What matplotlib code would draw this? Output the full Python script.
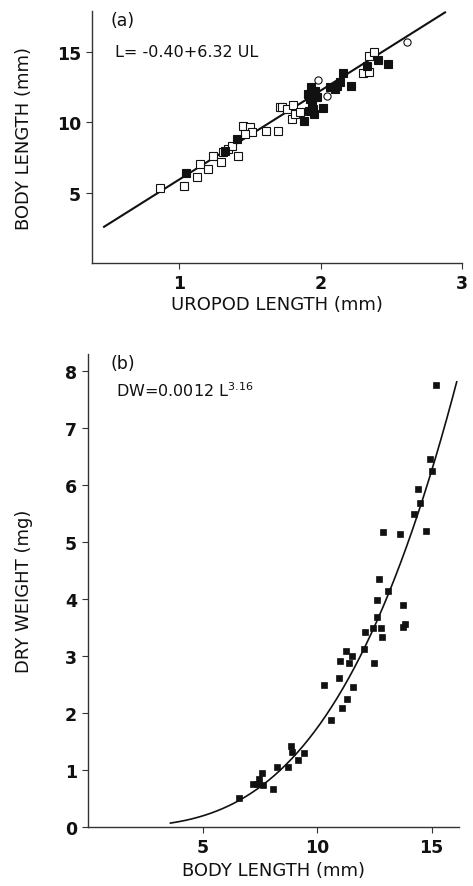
import numpy as np
import matplotlib
matplotlib.use("Agg")
import matplotlib.pyplot as plt

# ---------------- data: panel (a) uropod length vs body length ----------------
a_open_ul = [0.866, 1.035, 1.127, 1.148, 1.205, 1.24, 1.297, 1.311, 1.346, 1.375,
             1.417, 1.452, 1.502, 1.516, 1.466, 1.615, 1.70, 1.714, 1.728, 1.763,
             1.806, 1.80, 1.82, 1.855, 2.30, 2.343, 2.343, 2.378]
a_open_l = [5.36, 5.5, 6.14, 7.0, 6.71, 7.57, 7.14, 7.86, 8.07, 8.29,
            7.57, 9.71, 9.64, 9.29, 9.14, 9.36, 9.36, 11.07, 11.07, 10.93,
            11.21, 10.21, 10.57, 10.71, 13.5, 13.57, 14.71, 15.0]
a_circ_ul = [1.982, 2.046, 2.61]
a_circ_l = [13.0, 11.86, 15.71]
a_fill_ul = [1.05, 1.325, 1.41, 1.883, 1.91, 1.926, 1.94, 1.947, 1.919, 1.96,
             1.975, 1.933, 1.954, 2.018, 2.067, 2.10, 2.117, 2.138, 2.159, 2.216,
             2.329, 2.406, 2.477]
a_fill_l = [6.36, 7.93, 8.79, 10.07, 12.0, 11.64, 11.29, 10.93, 10.79, 12.21,
            11.79, 12.5, 10.57, 11.0, 12.5, 12.36, 12.57, 12.86, 13.5, 12.57,
            14.0, 14.43, 14.14]
a_intercept, a_slope = -0.40, 6.32
a_line_range = (0.47, 2.88)

# ---------------- data: panel (b) body length vs dry weight ----------------
b_len = [6.59, 7.22, 7.39, 7.58, 7.48, 7.66, 8.09, 8.27, 8.75, 8.86, 8.89, 9.18,
         9.43, 10.32, 10.60, 10.96, 11.00, 11.08, 11.25, 11.29, 11.41, 11.51,
         11.59, 12.07, 12.10, 12.46, 12.50, 12.61, 12.61, 12.79, 12.82, 13.12,
         12.72, 13.77, 13.74, 13.84, 12.90, 13.62, 14.24, 14.75, 14.42, 14.50,
         14.93, 15.00, 15.20]
b_dw = [0.51, 0.76, 0.76, 0.94, 0.85, 0.73, 0.67, 1.05, 1.06, 1.43, 1.32, 1.17,
        1.30, 2.50, 1.87, 2.62, 2.92, 2.08, 3.08, 2.24, 2.87, 3.00,
        2.46, 3.13, 3.43, 3.49, 2.87, 3.98, 3.68, 3.49, 3.33, 4.15,
        4.36, 3.90, 3.51, 3.57, 5.18, 5.14, 5.49, 5.19, 5.93, 5.68,
        6.46, 6.25, 7.75]
b_coef, b_exp = 0.0012, 3.16
b_curve_range = (3.6, 16.1)

a_xticks = [1, 2, 3]
a_yticks = [5, 10, 15]
b_xticks = [5, 10, 15]
b_yticks = [0, 1, 2, 3, 4, 5, 6, 7, 8]

# ---------------- figure ----------------
W, H = 473, 887
fig = plt.figure(figsize=(W / 100, H / 100), dpi=100)
plt.rcParams['font.family'] = ['DejaVu Sans']

def px_axes(left, right, top, bottom):
    return fig.add_axes([left / W, 1 - bottom / H, (right - left) / W, (bottom - top) / H])

ink = '#111111'

def style(ax):
    for s in ['top', 'right']:
        ax.spines[s].set_visible(False)
    for s in ['left', 'bottom']:
        ax.spines[s].set_linewidth(1.0)
        ax.spines[s].set_color('#333333')
    ax.tick_params(direction='out', length=4, width=0.8, colors='#333333',
                   labelcolor=ink, labelsize=12.5, pad=4)
    for lab in ax.get_xticklabels() + ax.get_yticklabels():
        lab.set_fontweight('bold')

# panel (a)
axa = px_axes(92, 462, 12, 264)
axa.set_xlim(0.385, 3.0)
axa.set_ylim(0, 17.9)
xx = np.linspace(*a_line_range, 50)
axa.plot(xx, a_intercept + a_slope * xx, color=ink, lw=1.5, zorder=2)
axa.plot(a_open_ul, a_open_l, ls='none', marker='s', ms=5.2, mfc='white',
         mec=ink, mew=0.8, zorder=3)
axa.plot(a_circ_ul, a_circ_l, ls='none', marker='o', ms=5.2, mfc='white',
         mec=ink, mew=0.8, zorder=3)
axa.plot(a_fill_ul, a_fill_l, ls='none', marker='s', ms=5.2, mfc=ink,
         mec=ink, mew=0.8, zorder=4)
axa.set_xticks(a_xticks)
axa.set_yticks(a_yticks)
style(axa)
axa.set_xlabel('UROPOD LENGTH (mm)', fontsize=13, color=ink)
axa.xaxis.set_label_coords(0.5, (264 - 296) / 252)
axa.set_ylabel('BODY LENGTH (mm)', fontsize=13, color=ink)
axa.yaxis.set_label_coords((33 - 92) / 370, 0.5)
axa.text(0.05, 1.0, '(a)', transform=axa.transAxes, fontsize=12.5,
         va='top', ha='left', color=ink)
axa.text(0.062, 0.84, 'L= -0.40+6.32 UL', transform=axa.transAxes,
         fontsize=11.5, va='center', ha='left', color=ink)

# panel (b)
axb = px_axes(88, 459, 355, 828)
axb.set_xlim(0, 16.2)
axb.set_ylim(0, 8.3)
cx = np.linspace(*b_curve_range, 200)
axb.plot(cx, b_coef * cx ** b_exp, color=ink, lw=1.2, zorder=2)
axb.plot(b_len, b_dw, ls='none', marker='s', ms=5.0, mfc=ink, mec=ink,
         mew=0.5, zorder=3)
axb.set_xticks(b_xticks)
axb.set_yticks(b_yticks)
style(axb)
axb.set_xlabel('BODY LENGTH (mm)', fontsize=13, color=ink)
axb.xaxis.set_label_coords(0.5, (828 - 862) / 473)
axb.set_ylabel('DRY WEIGHT (mg)', fontsize=13, color=ink)
axb.yaxis.set_label_coords((33 - 88) / 371, 0.5)
axb.text(0.06, 1.0, '(b)', transform=axb.transAxes, fontsize=12.5,
         va='top', ha='left', color=ink)
axb.text(0.075, 0.925, r'DW=0.0012 L$^{\mathregular{3.16}}$', transform=axb.transAxes,
         fontsize=11.5, va='center', ha='left', color=ink)

fig.savefig('out.png', dpi=100)
